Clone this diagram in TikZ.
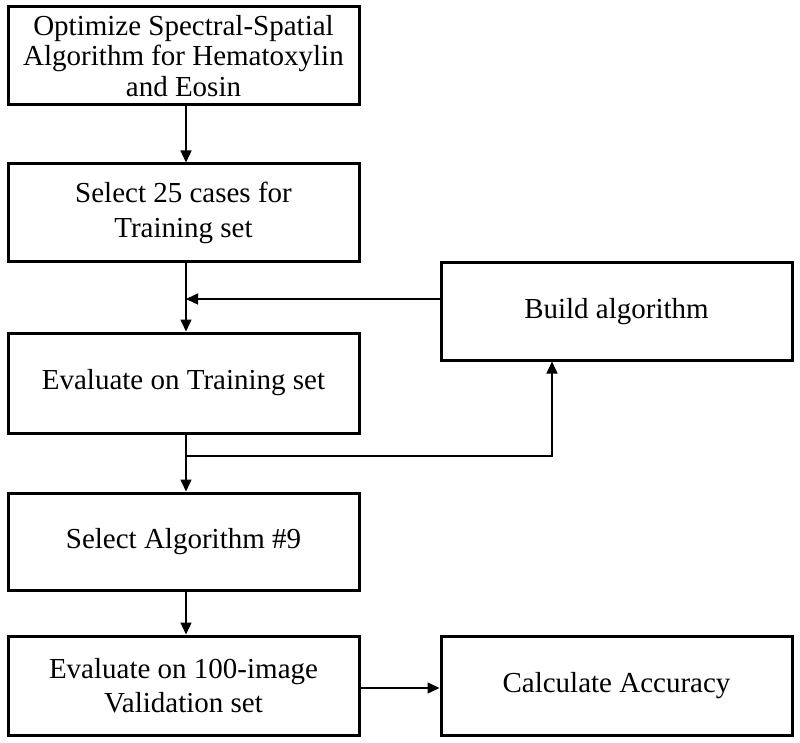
\documentclass[tikz,border=0pt]{standalone}
\usepackage{fontspec}
\setmainfont{Liberation Serif}
\usetikzlibrary{arrows.meta}
\begin{document}
\begin{tikzpicture}[x=1pt,y=-1pt,
  box/.style={draw, line width=3pt, minimum width=351pt, minimum height=98pt, inner sep=0pt, align=center, font=\fontsize{29}{34.5}\selectfont},
  arr/.style={line width=1.4pt, -{Triangle[length=12pt,width=11pt]}},
  ln/.style={line width=1.4pt}]
\useasboundingbox (0,0) rectangle (800,743);
\node[box, font=\fontsize{29}{30.5}\selectfont] (b1) at (183.5,56) {Optimize Spectral-Spatial\\Algorithm for Hematoxylin\\and Eosin};
\node[box] (b2) at (183.5,213) {Select 25 cases for\\Training set};
\node[box, minimum height=100pt] (b3) at (183.5,383) {Evaluate on Training set};
\node[box, minimum height=97pt] (build) at (616.5,311.5) {Build algorithm};
\node[box, minimum height=97pt] (b5) at (183.5,541.5) {Select Algorithm \#9};
\node[box, minimum height=99pt] (b6) at (183.5,685.5) {Evaluate on 100-image\\Validation set};
\node[box, minimum height=99pt] (calc) at (616.5,685.5) {Calculate Accuracy};
\coordinate (col) at (186,0);
\coordinate (J1) at (186,299);
\coordinate (J2) at (186,456);
\coordinate (up) at (552,0);
\draw[arr] (b1.south -| col) -- (b2.north -| col);
\draw[arr] (b2.south -| col) -- (b3.north -| col);
\draw[arr] (build.west |- J1) -- (J1);
\draw[arr] (b3.south -| col) -- (b5.north -| col);
\draw[arr] (J2) -| (build.south -| up);
\draw[arr] (b5.south -| col) -- (b6.north -| col);
\draw[arr] (b6.east |- 0,688) -- (calc.west |- 0,688);
\end{tikzpicture}
\end{document}
